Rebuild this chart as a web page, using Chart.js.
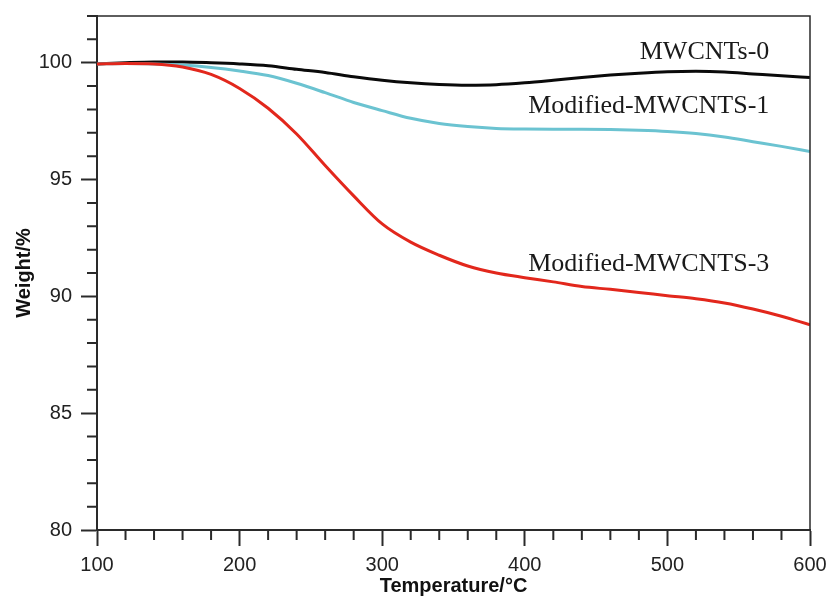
<!DOCTYPE html>
<html><head><meta charset="utf-8">
<script src="https://cdn.jsdelivr.net/npm/chart.js@4.4.1/dist/chart.umd.min.js"></script>
<style>html,body{margin:0;padding:0;background:#fff;}canvas{display:block;}</style>
</head><body>
<canvas id="c" width="827" height="597"></canvas>
<script>
// ---- data ----
const temperatures = [100,120,140,160,180,200,220,240,260,280,300,320,340,360,380,400,420,440,460,480,500,520,540,560,580,600];
const mwcnts0   = [99.95,100.0,100.03,100.03,100.0,99.95,99.87,99.72,99.58,99.4,99.25,99.14,99.07,99.04,99.06,99.14,99.25,99.37,99.47,99.55,99.61,99.63,99.6,99.52,99.44,99.37];
const modified1 = [99.95,99.97,99.95,99.9,99.8,99.65,99.45,99.12,98.72,98.3,97.95,97.62,97.4,97.27,97.19,97.16,97.15,97.15,97.14,97.11,97.06,96.97,96.82,96.62,96.42,96.2];
const modified3 = [99.95,99.97,99.95,99.82,99.5,98.9,98.05,96.95,95.6,94.3,93.1,92.32,91.76,91.3,91.0,90.8,90.62,90.42,90.3,90.17,90.03,89.9,89.72,89.46,89.15,88.78];
const seriesNames = ['MWCNTs-0','Modified-MWCNTS-1','Modified-MWCNTS-3'];
const xTickValues = [100,200,300,400,500,600];
const yTickValues = [80,85,90,95,100];
const xMinorTicks = [120,140,160,180,220,240,260,280,320,340,360,380,420,440,460,480,520,540,560,580];
const yMinorTicks = [81,82,83,84,86,87,88,89,91,92,93,94,96,97,98,99,101,102];

const colors = ['#0a0a0a','#6bc3d1','#e2271c'];
const series = [mwcnts0, modified1, modified3];

const axisColor = '#2a2a2a';

const extrasPlugin = {
  id: 'extras',
  afterDraw(chart, args, opts) {
    const ctx = chart.ctx;
    const {left, right, top, bottom} = chart.chartArea;
    const xs = chart.scales.x, ys = chart.scales.y;
    ctx.save();
    ctx.strokeStyle = axisColor;
    ctx.lineWidth = 1.5;
    ctx.beginPath();
    ctx.moveTo(left, top); ctx.lineTo(right, top); ctx.lineTo(right, bottom);
    ctx.stroke();
    ctx.lineWidth = 2;
    ctx.beginPath();
    xMinorTicks.forEach(v => { const p = xs.getPixelForValue(v); ctx.moveTo(p, bottom); ctx.lineTo(p, bottom + 10); });
    yMinorTicks.forEach(v => { const p = ys.getPixelForValue(v); ctx.moveTo(left - 10, p); ctx.lineTo(left, p); });
    ctx.stroke();
    ctx.font = '26px "Liberation Serif", "Times New Roman", serif';
    ctx.fillStyle = '#1a1a1a';
    ctx.textAlign = 'right';
    ctx.textBaseline = 'alphabetic';
    opts.anchors.forEach((a, i) => {
      ctx.fillText(seriesNames[i], xs.getPixelForValue(a.x), ys.getPixelForValue(a.y));
    });
    ctx.restore();
  }
};

function zeroPad(s) { s.paddingTop = 0; s.paddingBottom = 0; s.paddingLeft = 0; s.paddingRight = 0; }

new Chart(document.getElementById('c'), {
  type: 'line',
  data: {
    labels: temperatures,
    datasets: series.map((s, i) => ({
      label: seriesNames[i],
      data: temperatures.map((t, j) => ({x: t, y: s[j]})),
      borderColor: colors[i],
      borderWidth: 3,
      pointRadius: 0,
      fill: false,
      cubicInterpolationMode: 'monotone'
    })).reverse()
  },
  options: {
    responsive: false,
    animation: false,
    events: [],
    layout: {padding: {left: 0, right: 17, top: 16, bottom: 0}},
    plugins: {
      legend: {display: false},
      tooltip: {enabled: false},
      extras: {anchors: [{x: 571.5, y: 100.14}, {x: 571.5, y: 97.83}, {x: 571.5, y: 91.1}]}
    },
    scales: {
      x: {
        type: 'linear', min: 100, max: 600,
        afterBuildTicks: s => { s.ticks = xTickValues.map(v => ({value: v})); },
        afterFit: s => { s.height = 67; zeroPad(s); },
        grid: {drawOnChartArea: false, drawTicks: true, tickLength: 16, tickColor: axisColor, tickWidth: 2},
        border: {color: axisColor, width: 2},
        ticks: {color: '#222', padding: 7, maxRotation: 0, font: {family: '"Liberation Sans", Arial, sans-serif', size: 20}},
        title: {display: true, text: 'Temperature/°C', color: '#111', padding: {top: 0, bottom: -1},
          font: {family: '"Liberation Sans", Arial, sans-serif', size: 20, weight: 'bold'}}
      },
      y: {
        type: 'linear', min: 80, max: 102,
        afterBuildTicks: s => { s.ticks = yTickValues.map(v => ({value: v})); },
        afterFit: s => { s.width = 97; zeroPad(s); },
        grid: {drawOnChartArea: false, drawTicks: true, tickLength: 16, tickColor: axisColor, tickWidth: 2},
        border: {color: axisColor, width: 2},
        ticks: {color: '#222', padding: 9, font: {family: '"Liberation Sans", Arial, sans-serif', size: 20}},
        title: {display: true, text: 'Weight/%', color: '#111', padding: {top: 12, bottom: 0},
          font: {family: '"Liberation Sans", Arial, sans-serif', size: 20, weight: 'bold'}}
      }
    }
  },
  plugins: [extrasPlugin]
});
</script>
</body></html>
